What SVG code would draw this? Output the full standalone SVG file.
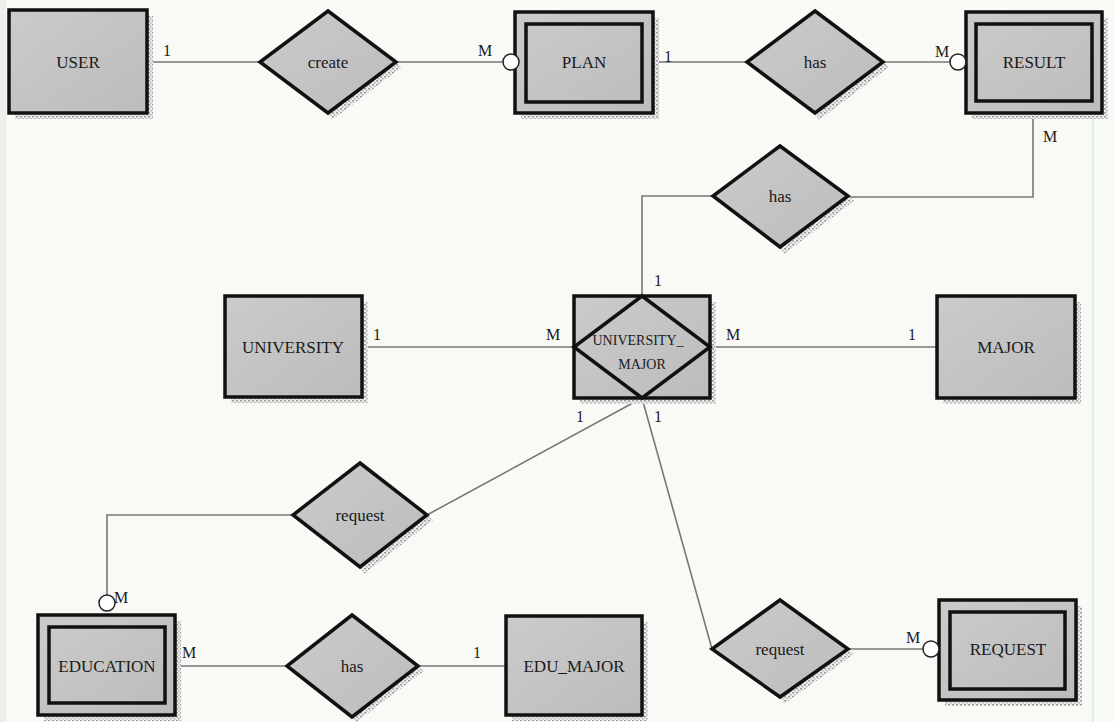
<svg xmlns="http://www.w3.org/2000/svg" width="1115" height="722" viewBox="0 0 1115 722">
<style>
.ent{fill:url(#g);stroke:#111;stroke-width:3.5}
.inner{fill:none;stroke:#111;stroke-width:3.5}
.rel{fill:url(#g);stroke:#111;stroke-width:3.5;stroke-linejoin:miter}
.sh{fill:url(#dots)}
.opt{fill:#fff;stroke:#222;stroke-width:1.5}
text{font-family:'Liberation Serif','Times New Roman',Times,serif;fill:#1a1a1a;text-anchor:middle}
.t{font-size:17px}
.ts{font-size:14px}
.lb{font-size:16px}
#connectors path{fill:none;stroke:#777;stroke-width:1.6}
</style>
<defs>
<linearGradient id="g" x1="0" y1="0" x2="1" y2="1">
<stop offset="0" stop-color="#cbcbcb"/>
<stop offset="1" stop-color="#bcbcbc"/>
</linearGradient>
<pattern id="dots" width="4" height="4" patternUnits="userSpaceOnUse">
<rect width="4" height="4" fill="#ececec"/>
<rect x="0" y="0" width="2" height="1.5" fill="#9a9a9a"/>
<rect x="2" y="2" width="1.5" height="1.5" fill="#b0b0b0"/>
</pattern>
</defs>
<rect width="1115" height="722" fill="#f9f9f6"/>
<rect x="0" y="0" width="6" height="722" fill="#eeeeea"/>
<line x1="1093" y1="100" x2="1093" y2="722" stroke="#bfe6e2" stroke-width="1"/>

<g id="connectors">
<path d="M147 62H260"/>
<path d="M396 62H503"/>
<path d="M653 62H747"/>
<path d="M883 62H950"/>
<path d="M1033 113V197H848"/>
<path d="M713 196H642V296"/>
<path d="M362 347H574"/>
<path d="M710 347H937"/>
<path d="M642 398L427 515"/>
<path d="M642 398L712 649"/>
<path d="M293 515H107V595"/>
<path d="M175 666H287"/>
<path d="M418 666H506"/>
<path d="M848 649H923"/>
</g>

<g id="USER">
<rect class="sh" x="15" y="16" width="138" height="103"/>
<rect class="ent" x="9" y="10" width="138" height="103"/>
<text class="t" x="78" y="68">USER</text>
</g>
<g id="create">
<polygon class="sh" points="396,62 328,113 332,120 402,67"/>
<polygon class="rel" points="328,11 396,62 328,113 260,62"/>
<text class="t" x="328" y="68">create</text>
</g>
<g id="PLAN">
<rect class="sh" x="521" y="18" width="138" height="101"/>
<rect class="ent" x="515" y="12" width="138" height="101"/>
<rect class="inner" x="526" y="24" width="116" height="78"/>
<circle class="opt" cx="511" cy="62" r="8"/>
<text class="t" x="584" y="68">PLAN</text>
</g>
<g id="has1">
<polygon class="sh" points="883,62 815,113 819,120 889,67"/>
<polygon class="rel" points="815,11 883,62 815,113 747,62"/>
<text class="t" x="815" y="68">has</text>
</g>
<g id="RESULT">
<rect class="sh" x="972" y="18" width="136" height="101"/>
<rect class="ent" x="966" y="12" width="136" height="101"/>
<rect class="inner" x="976" y="24" width="116" height="77"/>
<circle class="opt" cx="958" cy="62" r="8"/>
<text class="t" x="1034" y="68">RESULT</text>
</g>
<g id="has2">
<polygon class="sh" points="848,196 780,247 784,254 854,201"/>
<polygon class="rel" points="780,146 848,196 780,247 713,196"/>
<text class="t" x="780" y="202">has</text>
</g>
<g id="UNIVERSITY">
<rect class="sh" x="231" y="302" width="137" height="101"/>
<rect class="ent" x="225" y="296" width="137" height="101"/>
<text class="t" x="293" y="353">UNIVERSITY</text>
</g>
<g id="UNIVERSITY_MAJOR">
<rect class="sh" x="580" y="302" width="136" height="102"/>
<rect class="ent" x="574" y="296" width="136" height="102"/>
<polygon points="642,296 710,347 642,398 574,347" fill="none" stroke="#111" stroke-width="3.5"/>
<text class="ts" x="638" y="345">UNIVERSITY_</text>
<text class="ts" x="642" y="369">MAJOR</text>
</g>
<g id="MAJOR">
<rect class="sh" x="943" y="302" width="138" height="102"/>
<rect class="ent" x="937" y="296" width="138" height="102"/>
<text class="t" x="1006" y="353">MAJOR</text>
</g>
<g id="request1">
<polygon class="sh" points="427,515 360,567 364,574 433,520"/>
<polygon class="rel" points="360,463 427,515 360,567 293,515"/>
<text class="t" x="360" y="521">request</text>
</g>
<g id="EDUCATION">
<rect class="sh" x="44" y="621" width="137" height="100"/>
<rect class="ent" x="38" y="615" width="137" height="100"/>
<rect class="inner" x="49" y="627" width="116" height="76"/>
<circle class="opt" cx="107" cy="603" r="8"/>
<text class="t" x="107" y="672">EDUCATION</text>
</g>
<g id="has3">
<polygon class="sh" points="418,666 352,717 356,722 424,671"/>
<polygon class="rel" points="352,615 418,666 352,717 287,666"/>
<text class="t" x="352" y="672">has</text>
</g>
<g id="EDU_MAJOR">
<rect class="sh" x="512" y="622" width="136" height="99"/>
<rect class="ent" x="506" y="616" width="136" height="99"/>
<text class="t" x="574" y="672">EDU_MAJOR</text>
</g>
<g id="request2">
<polygon class="sh" points="848,649 780,697 784,704 854,654"/>
<polygon class="rel" points="780,600 848,649 780,697 712,649"/>
<text class="t" x="780" y="655">request</text>
</g>
<g id="REQUEST">
<rect class="sh" x="945" y="606" width="137" height="100"/>
<rect class="ent" x="939" y="600" width="137" height="100"/>
<rect class="inner" x="950" y="612" width="115" height="77"/>
<circle class="opt" cx="931" cy="649" r="8"/>
<text class="t" x="1008" y="655">REQUEST</text>
</g>

<g id="labels">
<text class="lb" x="167" y="56">1</text>
<text class="lb" x="485" y="56">M</text>
<text class="lb" x="668" y="62">1</text>
<text class="lb" x="942" y="57">M</text>
<text class="lb" x="1050" y="142">M</text>
<text class="lb" x="658" y="286">1</text>
<text class="lb" x="377" y="340">1</text>
<text class="lb" x="553" y="340">M</text>
<text class="lb" x="733" y="340">M</text>
<text class="lb" x="912" y="340">1</text>
<text class="lb" x="580" y="422">1</text>
<text class="lb" x="658" y="422">1</text>
<text class="lb" x="121" y="603">M</text>
<text class="lb" x="189" y="658">M</text>
<text class="lb" x="477" y="658">1</text>
<text class="lb" x="913" y="643">M</text>
</g>
</svg>
